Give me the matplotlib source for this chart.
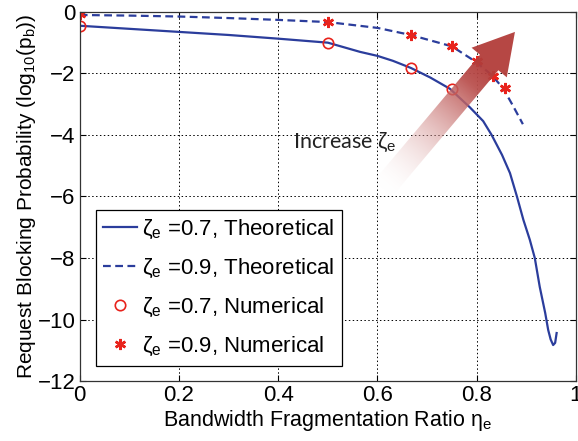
import numpy as np
import matplotlib
matplotlib.use("Agg")
import matplotlib.pyplot as plt
from matplotlib.patches import Polygon

plt.rcParams['font.family'] = ['Liberation Sans', 'DejaVu Sans']
plt.rcParams['mathtext.fontset'] = 'custom'
plt.rcParams['mathtext.rm'] = 'Liberation Sans'
plt.rcParams['mathtext.it'] = 'Liberation Sans'

# theoretical curves
x_th07 = [0.0, 0.1, 0.2, 0.3, 0.4, 0.5, 0.565, 0.6, 0.631, 0.667, 0.706, 0.746,
          0.786, 0.813, 0.83, 0.851, 0.867, 0.881, 0.894, 0.907, 0.917, 0.927,
          0.938, 0.944, 0.949, 0.954, 0.958, 0.961]
y_th07 = [-0.45, -0.55, -0.65, -0.75, -0.87, -1.0, -1.3, -1.43, -1.59, -1.82, -2.13, -2.5,
          -3.1, -3.55, -4.0, -4.65, -5.24, -6.0, -6.76, -7.41, -8.0, -8.94,
          -9.79, -10.34, -10.65, -10.83, -10.76, -10.44]
x_th09 = [0.0, 0.1, 0.2, 0.3, 0.4, 0.5, 0.6, 0.667, 0.75, 0.796, 0.83, 0.853, 0.873, 0.893]
y_th09 = [-0.1, -0.12, -0.15, -0.2, -0.26, -0.33, -0.52, -0.75, -1.12, -1.6, -2.05,
          -2.48, -3.05, -3.65]

# numerical points
x_num07 = [0.0, 0.5, 0.667, 0.75]
y_num07 = [-0.45, -1.0, -1.82, -2.5]
x_num09 = [0.0, 0.5, 0.667, 0.75, 0.8, 0.833, 0.857]
y_num09 = [-0.07, -0.33, -0.75, -1.12, -1.61, -2.09, -2.48]

blue = '#2b3d9c'
red = '#e8231c'

fig = plt.figure(figsize=(5.78, 4.41), dpi=100)
ax = fig.add_axes([0.138, 0.136, 0.8585, 0.837])

ax.plot(x_th07, y_th07, '-', color=blue, lw=1.6, label=r'$\zeta_e$ =0.7, Theoretical')
ax.plot(x_th09, y_th09, '--', color=blue, lw=1.6, dashes=(3.5, 2),
        label=r'$\zeta_e$ =0.9, Theoretical')
ax.plot(x_num07, y_num07, 'o', mfc='none', mec=red, mew=1.2, ms=7.5,
        label=r'$\zeta_e$ =0.7, Numerical')
ax.plot(x_num09, y_num09, linestyle='none', marker=(6, 2, 0), color=red, mec=red,
        mew=1.8, ms=8, label=r'$\zeta_e$ =0.9, Numerical')

ax.set_xlim(0, 1)
ax.set_ylim(-12, 0)
ax.set_xticks(np.arange(0, 1.01, 0.2))
ax.set_xticklabels(['0', '0.2', '0.4', '0.6', '0.8', '1'])
ax.set_yticks(np.arange(-12, 0.1, 2))
ax.grid(True, color='black', linestyle=(0, (1.5, 2.5)), lw=0.7)
ax.tick_params(direction='in', labelsize=16, length=4, top=True, right=True, pad=3)
for s in ax.spines.values():
    s.set_linewidth(0.9)
    s.set_color('#333333')

ax.set_xlabel(r'Bandwidth Fragmentation Ratio $\eta_e$', fontsize=15.5, labelpad=1)
ax.set_ylabel(r'Request Blocking Probability (log$_{10}$(p$_b$))', fontsize=15,
              labelpad=0)

# gradient arrow, built in pixel units then mapped to data
px_x, px_y = 496.0, 30.75
tail = np.array([382.0, 190.0])
tip = np.array([515.0, 32.0])
d = tip - tail
L = np.hypot(*d)
u = d / L
n = np.array([-u[1], u[0]])
hw, hhw, hl = 12.0, 23.0, 40.0
base = tip - u * hl
pts = [tail + n * hw, base + n * hw, base + n * hhw, tip,
       base - n * hhw, base - n * hw, tail - n * hw]
def to_data(p):
    return ((p[0] - 80.0) / px_x, -(p[1] - 12.0) / px_y)
poly = Polygon([to_data(p) for p in pts], closed=True, facecolor='none',
               edgecolor='none', transform=ax.transData)
ax.add_patch(poly)

xs = np.linspace(0.55, 0.95, 200)
ys = np.linspace(-6.8, 0, 200)
XX, YY = np.meshgrid(xs, ys)
PX = XX * px_x + 80.0
PY = -YY * px_y + 12.0
t = ((PX - tail[0]) * u[0] + (PY - tail[1]) * u[1]) / L
t = np.clip(t, 0, 1)
c0 = np.array([1.0, 1.0, 1.0])
c1 = np.array([0.70, 0.24, 0.23])
w = np.clip(t * 1.3, 0, 1)[..., None] ** 0.8
rgba = np.zeros(XX.shape + (4,))
rgba[..., :3] = c0 * (1 - w) + c1 * w
rgba[..., 3] = np.clip(t * 1.5, 0, 1) * 0.95
im = ax.imshow(rgba, extent=(xs[0], xs[-1], ys[0], ys[-1]), origin='lower',
               aspect='auto', zorder=3, interpolation='bilinear')
im.set_clip_path(poly)

ax.text(0.43, -4.23, r'Increase $\zeta_e$', fontsize=15.5, family=['Lato', 'DejaVu Sans'],
        va='center', ha='left', color='#222222')

leg = ax.legend(loc='lower left', bbox_to_anchor=(0.032, 0.041), borderaxespad=0,
                fontsize=16, fancybox=False, edgecolor='black', framealpha=1,
                handlelength=1.5, handletextpad=0.25, labelspacing=0.72,
                borderpad=0.35, numpoints=1)
leg.get_frame().set_linewidth(0.9)

fig.savefig('out.png', dpi=100)
